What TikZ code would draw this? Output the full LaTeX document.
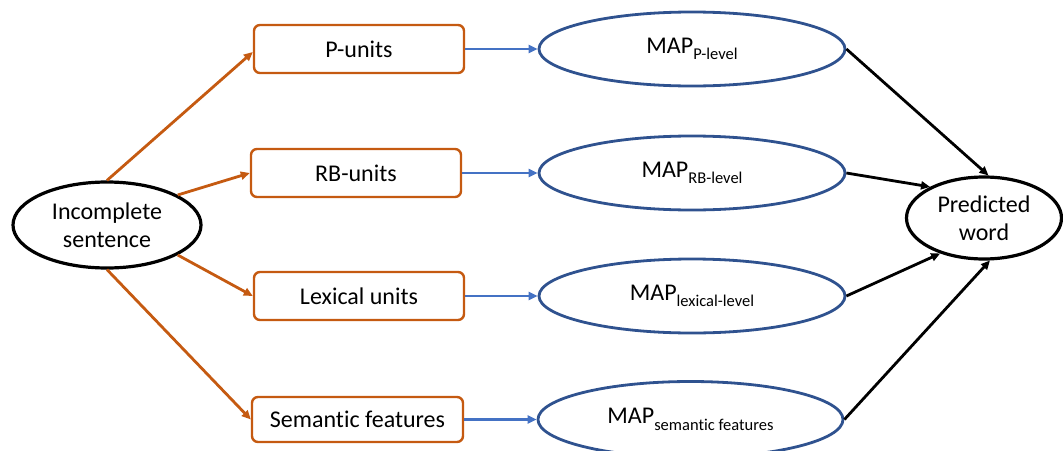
\documentclass[tikz,border=0pt]{standalone}
\usepackage{fontspec}
\setmainfont{Carlito}[Ligatures=NoCommon]
\usetikzlibrary{arrows.meta,shapes.geometric}
\definecolor{rust}{HTML}{C55A11}
\definecolor{navy}{HTML}{2F528F}
\definecolor{azure}{HTML}{4472C4}
% lowered, smaller label next to "MAP"
\newcommand{\maplevel}[1]{MAP\raisebox{-6.5pt}{\fontsize{16.5}{19}\selectfont #1}}
\begin{document}
\begin{tikzpicture}[x=1pt,y=-1pt,
  every node/.style={font=\fontsize{24}{28}\selectfont},
  unitbox/.style={draw=rust,line width=2.4pt,rounded corners=6pt,minimum width=210pt,minimum height=48pt,inner sep=0pt},
  mapell/.style={draw=navy,line width=2.8pt,ellipse,minimum width=306pt,minimum height=74pt,inner sep=0pt},
  endell/.style={draw=black,line width=3.2pt,ellipse,inner sep=0pt,align=center},
  tip/.style={-{Triangle[length=9pt,width=8pt]}},
  feed/.style={tip,draw=rust,line width=2.8pt},
  pass/.style={tip,draw=azure,line width=2.6pt},
  merge/.style={tip,draw=black,line width=2.8pt}]
\useasboundingbox (0,0) rectangle (1063,450);

% end points
\node[endell,minimum width=188pt,minimum height=86pt] (src) at (107,225) {Incomplete\\sentence};
\node[endell,minimum width=155pt,minimum height=82pt] (out) at (984,218) {Predicted\\word};

% unit boxes
\node[unitbox] (pu) at (359,49) {P-units};
\node[unitbox] (rb) at (356,173) {RB-units};
\node[unitbox] (lx) at (359,296) {Lexical units};
\node[unitbox,minimum width=211pt,minimum height=45pt] (sf) at (357.5,419.5) {Semantic features};

% MAP ellipses
\node[mapell] (mp) at (692,49) {\maplevel{P-level}};
\node[mapell] (mr) at (692,173) {\maplevel{RB-level}};
\node[mapell] (ml) at (692,296) {\maplevel{lexical-level}};
\node[mapell,minimum width=305pt,minimum height=76pt] (ms) at (690.5,419.5) {\maplevel{semantic features}};

% sentence to units
\draw[feed] (src.north) -- ([yshift=-3pt]pu.west);
\draw[feed] (src.23) -- (rb.west);
\draw[feed] (src.-23) -- (lx.west);
\draw[feed] (src.south) -- (sf.west);

% units to MAP
\draw[pass] (pu.east) -- (mp.west);
\draw[pass] (rb.east) -- (mr.west);
\draw[pass] (lx.east) -- (ml.west);
\draw[pass] (sf.east) -- (ms.west);

% MAP to prediction
\draw[merge] (mp.east) -- (out.84);
\draw[merge] (mr.east) -- (out.150);
\draw[merge] (ml.east) -- (out.-141);
\draw[merge] (ms.east) -- (out.-82);
\end{tikzpicture}
\end{document}
